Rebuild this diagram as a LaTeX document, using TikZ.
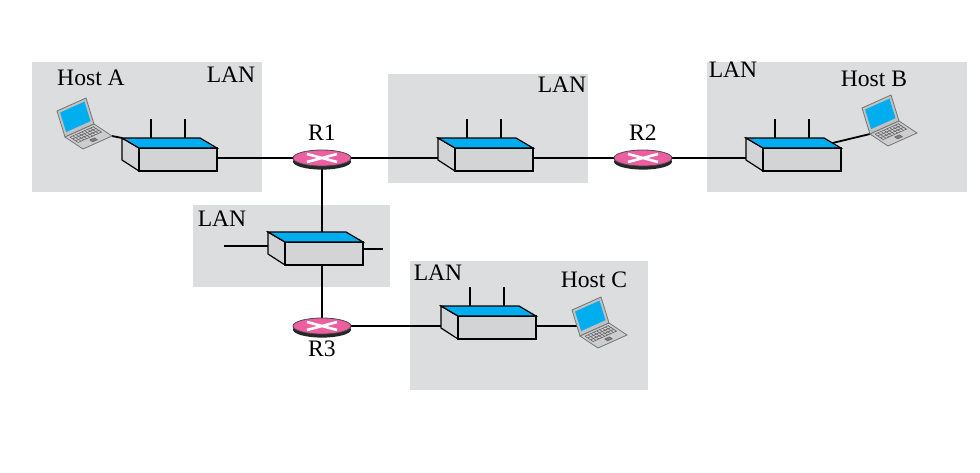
\documentclass[tikz,border=0pt]{standalone}
\usepackage{fontspec}
\setmainfont{Liberation Serif}
\usepackage{tikz}
\usetikzlibrary{shapes.geometric, backgrounds}

\definecolor{langray}{RGB}{220,221,222}
\definecolor{swtop}{RGB}{0,174,239}
\definecolor{swface}{RGB}{211,212,214}
\definecolor{rpink}{RGB}{236,94,160}
\definecolor{lapgray}{RGB}{192,193,195}

\begin{document}
\begin{tikzpicture}[x=0.5pt, y=-0.5pt,
  lan/.style={fill=langray},
  lbl/.style={font=\fontsize{11.8}{14}\selectfont, inner sep=0pt},
  link/.style={line width=0.9pt},
  antenna/.style={line width=1.2pt},
  router/.style={ellipse, minimum width=29pt, minimum height=8pt, inner sep=0pt,
    fill=rpink, draw=black!70, line width=0.4pt,
    preaction={fill=black!85, transform canvas={yshift=-1.8pt}},
    path picture={\draw[white, line width=1.3pt]
      ([shift={(-7.5pt,-2pt)}]path picture bounding box.center) -- ([shift={(7.5pt,2pt)}]path picture bounding box.center)
      ([shift={(-7.5pt,2pt)}]path picture bounding box.center) -- ([shift={(7.5pt,-2pt)}]path picture bounding box.center);}},
  pics/switch/.style={code={
    \ifnum#1>0
      \draw[antenna] (12, -10) -- (12, -29) (46, -10) -- (46, -29);
    \fi
    \filldraw[fill=swface, line width=0.6pt] (0, 0) -- (-17, -10) -- (-17, 12) -- (0, 23) -- cycle;
    \filldraw[fill=swface, line width=0.6pt] (0, 0) rectangle (78, 23);
    \filldraw[fill=swtop, line width=0.6pt] (0, 0) -- (-17, -10) -- (61, -10) -- (78, 0) -- cycle;
    \coordinate (-e) at (78, 10);
    \coordinate (-w) at (-17, 10);
    \coordinate (-n) at (37, -10);
    \coordinate (-s) at (37, 23);
    \coordinate (-nw) at (-17, -10);
    \coordinate (-ne) at (69.5, -5);
  }},
  pics/laptop/.style={code={
    % screen
    \begin{scope}[x={(14.5pt, 6.5pt)}, y={(-4pt, 13pt)}]
      \filldraw[fill=lapgray, draw=black!55, line width=0.4pt] (0, 0) -- (1, 0) -- (1, 1) -- (0, 1) -- cycle;
      \fill[swtop] (0.08, 0.15) -- (0.92, 0.15) -- (0.92, 0.9) -- (0.08, 0.9) -- cycle;
    \end{scope}
    % keyboard
    \begin{scope}[x={(14.5pt, 6.5pt)}, y={(9pt, -6pt)}]
      \filldraw[fill=lapgray!80, draw=black!55, line width=0.4pt] (0, 0) -- (1, 0) -- (1, 1) -- (0, 1) -- cycle;
      \foreach \v in {0.12, 0.27, 0.42, 0.57}
        \draw[black!60, line width=0.3pt] (0.1, \v) -- (0.92, \v);
      \foreach \u in {0.1, 0.2, ..., 0.95}
        \draw[black!60, line width=0.3pt] (\u, 0.12) -- (\u, 0.57);
      \filldraw[fill=black!50, draw=black!60, line width=0.3pt] (0.42, 0.7) -- (0.58, 0.7) -- (0.58, 0.86) -- (0.42, 0.86) -- cycle;
    \end{scope}
    \coordinate (-hinge) at (0, 0);
    \coordinate (-kb) at (47, -1);
    \coordinate (-port) at (-3, -10);
  }}]
  \useasboundingbox (0, 0) rectangle (980, 472);

  % labels
  \node[lbl] (hostA) at (91, 78) {Host A};
  \node[lbl] (hostB) at (874, 79) {Host B};
  \node[lbl] (hostC) at (594, 280) {Host C};
  \node[lbl] (lanA) at (231, 75) {LAN};
  \node[lbl] (lanM) at (562, 85) {LAN};
  \node[lbl] (lanB) at (733, 70) {LAN};
  \node[lbl] (lanL) at (222, 219) {LAN};
  \node[lbl] (lanC) at (438, 273) {LAN};

  % switches and hosts
  \pic (swA) at (139, 148) {switch=1};
  \pic (swM) at (455, 148) {switch=1};
  \pic (swB) at (763, 148) {switch=1};
  \pic (swL) at (285, 242) {switch=0};
  \pic (swC) at (458, 316) {switch=1};
  \pic (lapA) at (65, 137) {laptop};
  \pic (lapB) at (870, 134) {laptop};
  \pic (lapC) at (580, 336) {laptop};

  % routers
  \node[router] (R1) at (322, 158) {};
  \node[router] (R2) at (643, 158) {};
  \node[router] (R3) at (322, 326) {};
  \node[lbl] (r1lbl) at (322, 133) {R1};
  \node[lbl] (r2lbl) at (643, 133) {R2};
  \node[lbl] (r3lbl) at (322, 349) {R3};

  \begin{scope}[on background layer]
    % LAN areas
    \fill[lan] (32, 62) rectangle (262, 192);
    \fill[lan] (388, 74) rectangle (588, 183);
    \fill[lan] (707, 62) rectangle (967, 192);
    \fill[lan] (193, 205) rectangle (390, 287);
    \fill[lan] (410, 261) rectangle (648, 390);

    % links
    \draw[link] (lapA-kb) -- (swA-nw);
    \draw[link] (swA-e) -- (R1.center) -- (swM-w);
    \draw[link] (swM-e) -- (R2.center) -- (swB-w);
    \draw[link] (swB-ne) -- (lapB-hinge);
    \draw[link] (R1.center) -- (swL-n);
    \draw[link] (swL-s) -- (R3.center) -- (swC-w);
    \draw[link] (swC-e) -- (lapC-port);
    \coordinate (stubL) at (224, 246);
    \coordinate (stubR) at (383, 249);
    \draw[link] (stubL) -- (stubL -| swL-w);
    \draw[link] (swL-e |- stubR) -- (stubR);
  \end{scope}
\end{tikzpicture}
\end{document}
